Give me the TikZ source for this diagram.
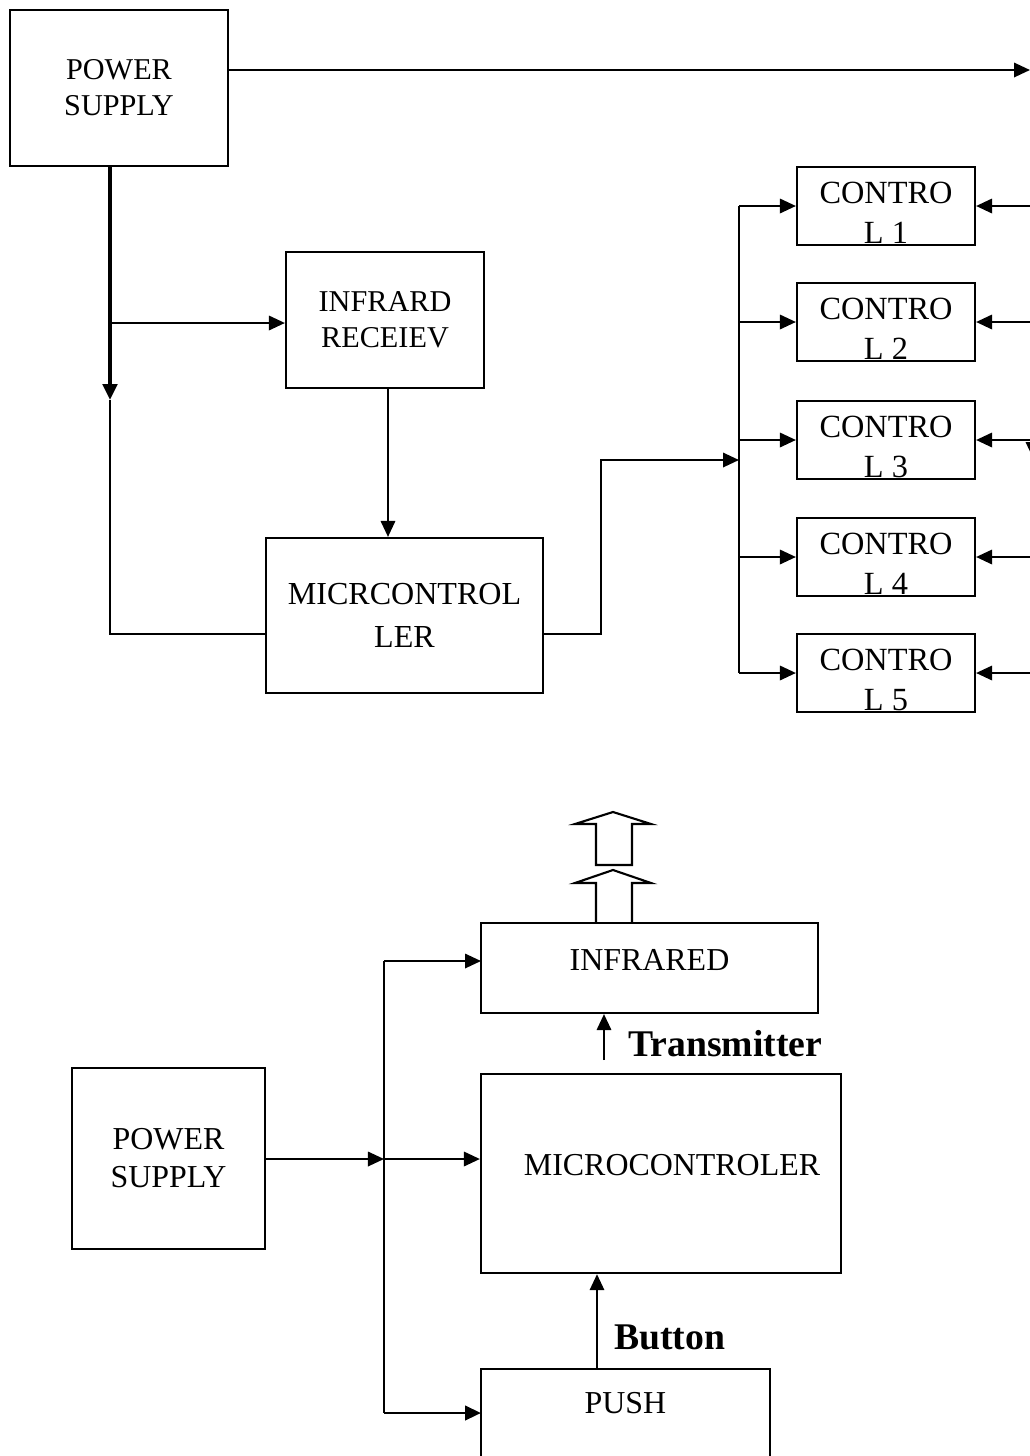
\documentclass[tikz,border=0pt]{standalone}
\usepackage{fontspec}
\setmainfont{Liberation Serif}
\usetikzlibrary{arrows.meta}

\newcommand\bodysize{\fontsize{21.5}{25.5}\selectfont}
\newcommand\lowsize{\fontsize{22.7}{27}\selectfont}
\newcommand\widesize{\fontsize{22.8}{31}\selectfont}
\newcommand\ctlsize{\fontsize{23}{28.5}\selectfont}
\newcommand\tagsize{\fontsize{26.8}{30}\selectfont\bfseries}

\begin{document}
\begin{tikzpicture}[x=0.025cm, y=-0.025cm,
  box/.style={draw, line width=1.5pt, inner sep=0pt, align=center, font=\bodysize},
  ctlbox/.style={box, minimum width=4.45cm, minimum height=1.95cm},
  ctltext/.style={anchor=north, inner sep=0pt, align=center, font=\ctlsize},
  tag/.style={anchor=west, inner sep=0pt, font=\tagsize},
  link/.style={line width=1.5pt},
  arr/.style={link, -{Triangle[length=0.4cm, width=0.36cm]}},
  beam/.style={line width=1.5pt, line join=miter}
]
  % page frame, pixel units
  \clip (0,0) rectangle (1030,1456);

  % ===== Receiver side =====
  \node[box, minimum width=5.45cm, minimum height=3.9cm] (psa) at (119,88) {POWER\\SUPPLY};
  \node[box, minimum width=4.95cm, minimum height=3.4cm] (irrx) at (385,320) {INFRARD\\RECEIEV};
  \node[box, font=\widesize, minimum width=6.925cm, minimum height=3.875cm] (mcua) at (404.5,615.5) {MICRCONTROL\\LER};

  % Load controllers
  \foreach \i/\y in {1/206, 2/322, 3/440, 4/557, 5/673} {
    \node[ctlbox] (ctl\i) at (886,\y) {};
    \node[ctltext] (ctltxt\i) at ([yshift=-0.39cm]ctl\i.north) {CONTRO\\L \i};
  }

  % Supply rails
  \coordinate (psout) at (1030,70);
  \coordinate (drop) at (110,400);
  \coordinate (tapir) at (110,323);
  \coordinate (mcuin) at (266,634);
  \draw[arr] (psa.east |- psout) -- (psout);
  \draw[arr, line width=2.8pt] (drop |- psa.south) -- (drop);
  \draw[link] (drop) |- (mcuin);
  \draw[arr] (tapir) -- (tapir -| irrx.west);
  \draw[arr] ([xshift=0.075cm]irrx.south) -- ([xshift=0.075cm]irrx.south |- mcua.north);

  % Microcontroller to controller bus
  \coordinate (jog) at (601,460);
  \coordinate (bus) at (739,460);
  \draw[arr] (mcua.east |- mcuin) -| (jog) -- (bus);
  \draw[link] (bus |- ctl1) -- (bus |- ctl5);
  \foreach \i in {1,...,5} {
    \draw[arr] (bus |- ctl\i) -- (ctl\i.west);
    \draw[arr] (ctl\i.east -| psout) -- (ctl\i.east);
  }
  \coordinate (vtop) at (1033,430);
  \draw[arr] (vtop) -- ++(0,28);

  % ===== Transmitter side =====
  \node[box, font=\lowsize, minimum width=8.425cm, minimum height=2.25cm, text height=1.19cm, text depth=1.06cm] (irtx) at (649.5,968) {INFRARED};
  \node[box, font=\lowsize, minimum width=9cm, minimum height=4.975cm, text height=2.54cm, text depth=2.44cm] (mcub) at (661,1173.5) {\hspace*{0.55cm}MICROCONTROLER};
  \node[box, font=\lowsize, minimum width=7.225cm, minimum height=3.25cm, text height=1.11cm, text depth=2.14cm] (push) at (625.5,1434) {PUSH};
  \node[box, font=\lowsize, minimum width=4.825cm, minimum height=4.525cm] (psb) at (168.5,1158.5) {POWER\\SUPPLY};

  % Supply fan-out
  \coordinate (hub) at (384,1159);
  \coordinate (irtin) at (481,961);
  \coordinate (pushin) at (481,1413);
  \draw[arr] (psb.east |- hub) -- (hub);
  \draw[link] (hub |- irtin) -- (hub |- pushin);
  \draw[arr] (hub |- irtin) -- (irtin);
  \draw[arr] (hub) -- (hub -| mcub.west);
  \draw[arr, line width=2.1pt] (hub |- pushin) -- (pushin);

  % Signal arrows with labels
  \coordinate (txfoot) at (604,1060);
  \coordinate (btfoot) at (597,1368);
  \draw[arr] (txfoot) -- (txfoot |- irtx.south);
  \draw[arr] (btfoot) -- (btfoot |- mcub.south);
  \node[tag] (txlbl) at (628,1044) {Transmitter};
  \node[tag] (btlbl) at (614,1337) {Button};

  % IR beam
  \coordinate (beam) at (613,923);
  \draw[beam] (beam) ++(-17,0) -- ++(0,-40) -- ++(-21,0) -- ++(38,-13) -- ++(38,13) -- ++(-19,0) -- ++(0,40);
  \draw[beam] (beam) ++(-17,-58) -- ++(0,-41) -- ++(-21,0) -- ++(38,-12) -- ++(38,12) -- ++(-19,0) -- ++(0,41) -- cycle;
\end{tikzpicture}
\end{document}
